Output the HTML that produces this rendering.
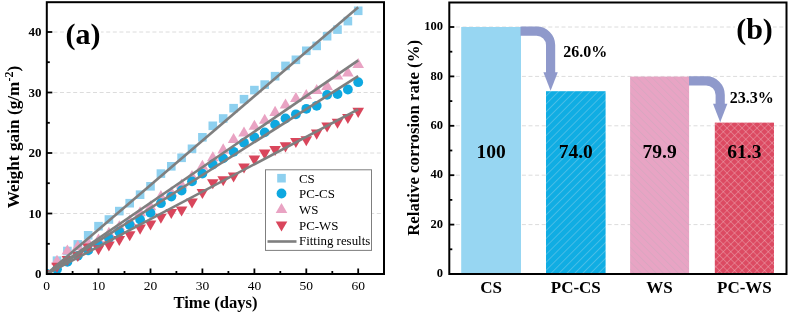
<!DOCTYPE html><html><head><meta charset="utf-8"><style>html,body{margin:0;padding:0;background:#fff;overflow:hidden}svg{display:block;will-change:transform}text{font-family:"Liberation Serif",serif}</style></head><body>
<svg width="789" height="313" viewBox="0 0 789 313">
<defs>
<pattern id="h1" patternUnits="userSpaceOnUse" width="5.6" height="5.6" patternTransform="rotate(45)"><rect width="5.6" height="5.6" fill="#10ade3"/><line x1="0" y1="0" x2="0" y2="5.6" stroke="#7ccbea" stroke-width="1"/></pattern>
<pattern id="h2" patternUnits="userSpaceOnUse" width="5.2" height="5.2" patternTransform="rotate(-45)"><rect width="5.2" height="5.2" fill="#e8a4c4"/><line x1="0" y1="0" x2="0" y2="5.2" stroke="#cfa8bd" stroke-width="1"/></pattern>
<pattern id="h3" patternUnits="userSpaceOnUse" width="5.3" height="5.3" patternTransform="rotate(45)"><rect width="5.3" height="5.3" fill="#dc4a62"/><line x1="0" y1="0" x2="0" y2="5.3" stroke="#ecaeb7" stroke-width="0.8"/><line x1="0" y1="0" x2="5.3" y2="0" stroke="#ecaeb7" stroke-width="0.8"/></pattern>
<clipPath id="ca"><rect x="46.8" y="2.2" width="337.2" height="271.8"/></clipPath>
</defs>
<rect width="789" height="313" fill="#fff"/>
<line x1="46.8" y1="213.5" x2="384.0" y2="213.5" stroke="#dcdcdc" stroke-width="1" stroke-dasharray="4 2.6"/>
<line x1="46.8" y1="153.0" x2="384.0" y2="153.0" stroke="#dcdcdc" stroke-width="1" stroke-dasharray="4 2.6"/>
<line x1="46.8" y1="92.5" x2="384.0" y2="92.5" stroke="#dcdcdc" stroke-width="1" stroke-dasharray="4 2.6"/>
<line x1="46.8" y1="32.0" x2="384.0" y2="32.0" stroke="#dcdcdc" stroke-width="1" stroke-dasharray="4 2.6"/>
<g clip-path="url(#ca)">
<rect x="42.3" y="269.7" width="8.6" height="8.6" fill="#8ed0ef"/>
<rect x="52.7" y="256.4" width="8.6" height="8.6" fill="#8ed0ef"/>
<rect x="63.1" y="246.7" width="8.6" height="8.6" fill="#8ed0ef"/>
<rect x="73.5" y="240.1" width="8.6" height="8.6" fill="#8ed0ef"/>
<rect x="83.9" y="231.0" width="8.6" height="8.6" fill="#8ed0ef"/>
<rect x="94.2" y="221.9" width="8.6" height="8.6" fill="#8ed0ef"/>
<rect x="104.6" y="215.2" width="8.6" height="8.6" fill="#8ed0ef"/>
<rect x="115.0" y="206.8" width="8.6" height="8.6" fill="#8ed0ef"/>
<rect x="125.4" y="198.9" width="8.6" height="8.6" fill="#8ed0ef"/>
<rect x="135.8" y="190.4" width="8.6" height="8.6" fill="#8ed0ef"/>
<rect x="146.2" y="182.0" width="8.6" height="8.6" fill="#8ed0ef"/>
<rect x="156.6" y="169.3" width="8.6" height="8.6" fill="#8ed0ef"/>
<rect x="167.0" y="162.0" width="8.6" height="8.6" fill="#8ed0ef"/>
<rect x="177.3" y="153.5" width="8.6" height="8.6" fill="#8ed0ef"/>
<rect x="187.7" y="144.5" width="8.6" height="8.6" fill="#8ed0ef"/>
<rect x="198.1" y="133.0" width="8.6" height="8.6" fill="#8ed0ef"/>
<rect x="208.5" y="121.5" width="8.6" height="8.6" fill="#8ed0ef"/>
<rect x="218.9" y="114.2" width="8.6" height="8.6" fill="#8ed0ef"/>
<rect x="229.3" y="103.9" width="8.6" height="8.6" fill="#8ed0ef"/>
<rect x="239.7" y="94.9" width="8.6" height="8.6" fill="#8ed0ef"/>
<rect x="250.1" y="85.8" width="8.6" height="8.6" fill="#8ed0ef"/>
<rect x="260.4" y="80.3" width="8.6" height="8.6" fill="#8ed0ef"/>
<rect x="270.8" y="71.9" width="8.6" height="8.6" fill="#8ed0ef"/>
<rect x="281.2" y="61.6" width="8.6" height="8.6" fill="#8ed0ef"/>
<rect x="291.6" y="55.5" width="8.6" height="8.6" fill="#8ed0ef"/>
<rect x="302.0" y="46.5" width="8.6" height="8.6" fill="#8ed0ef"/>
<rect x="312.4" y="41.6" width="8.6" height="8.6" fill="#8ed0ef"/>
<rect x="322.8" y="31.9" width="8.6" height="8.6" fill="#8ed0ef"/>
<rect x="333.2" y="25.3" width="8.6" height="8.6" fill="#8ed0ef"/>
<rect x="343.6" y="16.8" width="8.6" height="8.6" fill="#8ed0ef"/>
<rect x="353.9" y="6.5" width="8.6" height="8.6" fill="#8ed0ef"/>
<path d="M46.6,268.0L52.4,278.0L40.8,278.0Z" fill="#e9a3c3"/>
<path d="M57.0,254.7L62.8,264.7L51.2,264.7Z" fill="#e9a3c3"/>
<path d="M67.4,244.4L73.2,254.4L61.6,254.4Z" fill="#e9a3c3"/>
<path d="M77.8,240.1L83.6,250.2L72.0,250.2Z" fill="#e9a3c3"/>
<path d="M88.2,236.5L94.0,246.6L82.4,246.6Z" fill="#e9a3c3"/>
<path d="M98.5,233.5L104.3,243.5L92.7,243.5Z" fill="#e9a3c3"/>
<path d="M108.9,226.8L114.7,236.9L103.1,236.9Z" fill="#e9a3c3"/>
<path d="M119.3,220.2L125.1,230.2L113.5,230.2Z" fill="#e9a3c3"/>
<path d="M129.7,214.4L135.5,224.5L123.9,224.5Z" fill="#e9a3c3"/>
<path d="M140.1,206.3L145.9,216.3L134.3,216.3Z" fill="#e9a3c3"/>
<path d="M150.5,200.2L156.3,210.3L144.7,210.3Z" fill="#e9a3c3"/>
<path d="M160.9,189.9L166.7,200.0L155.1,200.0Z" fill="#e9a3c3"/>
<path d="M171.3,186.3L177.1,196.3L165.5,196.3Z" fill="#e9a3c3"/>
<path d="M181.6,178.4L187.4,188.5L175.8,188.5Z" fill="#e9a3c3"/>
<path d="M192.0,170.0L197.8,180.0L186.2,180.0Z" fill="#e9a3c3"/>
<path d="M202.4,159.7L208.2,169.7L196.6,169.7Z" fill="#e9a3c3"/>
<path d="M212.8,151.2L218.6,161.3L207.0,161.3Z" fill="#e9a3c3"/>
<path d="M223.2,143.3L229.0,153.4L217.4,153.4Z" fill="#e9a3c3"/>
<path d="M233.6,133.1L239.4,143.1L227.8,143.1Z" fill="#e9a3c3"/>
<path d="M244.0,126.4L249.8,136.4L238.2,136.4Z" fill="#e9a3c3"/>
<path d="M254.4,119.7L260.2,129.8L248.6,129.8Z" fill="#e9a3c3"/>
<path d="M264.7,113.7L270.5,123.7L258.9,123.7Z" fill="#e9a3c3"/>
<path d="M275.1,105.8L280.9,115.9L269.3,115.9Z" fill="#e9a3c3"/>
<path d="M285.5,98.6L291.3,108.6L279.7,108.6Z" fill="#e9a3c3"/>
<path d="M295.9,91.9L301.7,102.0L290.1,102.0Z" fill="#e9a3c3"/>
<path d="M306.3,88.9L312.1,98.9L300.5,98.9Z" fill="#e9a3c3"/>
<path d="M316.7,84.1L322.5,94.1L310.9,94.1Z" fill="#e9a3c3"/>
<path d="M327.1,79.8L332.9,89.9L321.3,89.9Z" fill="#e9a3c3"/>
<path d="M337.5,69.5L343.3,79.6L331.7,79.6Z" fill="#e9a3c3"/>
<path d="M347.9,66.5L353.7,76.6L342.1,76.6Z" fill="#e9a3c3"/>
<path d="M358.2,58.0L364.0,68.1L352.4,68.1Z" fill="#e9a3c3"/>
<circle cx="46.6" cy="274.0" r="4.9" fill="#0ea8e0"/>
<circle cx="57.0" cy="269.2" r="4.9" fill="#0ea8e0"/>
<circle cx="67.4" cy="261.9" r="4.9" fill="#0ea8e0"/>
<circle cx="77.8" cy="255.8" r="4.9" fill="#0ea8e0"/>
<circle cx="88.2" cy="250.4" r="4.9" fill="#0ea8e0"/>
<circle cx="98.5" cy="245.0" r="4.9" fill="#0ea8e0"/>
<circle cx="108.9" cy="238.3" r="4.9" fill="#0ea8e0"/>
<circle cx="119.3" cy="231.7" r="4.9" fill="#0ea8e0"/>
<circle cx="129.7" cy="225.0" r="4.9" fill="#0ea8e0"/>
<circle cx="140.1" cy="219.6" r="4.9" fill="#0ea8e0"/>
<circle cx="150.5" cy="212.9" r="4.9" fill="#0ea8e0"/>
<circle cx="160.9" cy="203.2" r="4.9" fill="#0ea8e0"/>
<circle cx="171.3" cy="196.6" r="4.9" fill="#0ea8e0"/>
<circle cx="181.6" cy="190.5" r="4.9" fill="#0ea8e0"/>
<circle cx="192.0" cy="181.4" r="4.9" fill="#0ea8e0"/>
<circle cx="202.4" cy="173.6" r="4.9" fill="#0ea8e0"/>
<circle cx="212.8" cy="164.5" r="4.9" fill="#0ea8e0"/>
<circle cx="223.2" cy="158.4" r="4.9" fill="#0ea8e0"/>
<circle cx="233.6" cy="151.8" r="4.9" fill="#0ea8e0"/>
<circle cx="244.0" cy="142.7" r="4.9" fill="#0ea8e0"/>
<circle cx="254.4" cy="137.3" r="4.9" fill="#0ea8e0"/>
<circle cx="264.7" cy="132.4" r="4.9" fill="#0ea8e0"/>
<circle cx="275.1" cy="124.6" r="4.9" fill="#0ea8e0"/>
<circle cx="285.5" cy="118.5" r="4.9" fill="#0ea8e0"/>
<circle cx="295.9" cy="114.3" r="4.9" fill="#0ea8e0"/>
<circle cx="306.3" cy="108.8" r="4.9" fill="#0ea8e0"/>
<circle cx="316.7" cy="105.8" r="4.9" fill="#0ea8e0"/>
<circle cx="327.1" cy="94.9" r="4.9" fill="#0ea8e0"/>
<circle cx="337.5" cy="94.0" r="4.9" fill="#0ea8e0"/>
<circle cx="347.9" cy="89.5" r="4.9" fill="#0ea8e0"/>
<circle cx="358.2" cy="82.2" r="4.9" fill="#0ea8e0"/>
<path d="M46.6,280.0L52.4,270.0L40.8,270.0Z" fill="#d9465c"/>
<path d="M57.0,272.8L62.8,262.7L51.2,262.7Z" fill="#d9465c"/>
<path d="M67.4,266.1L73.2,256.1L61.6,256.1Z" fill="#d9465c"/>
<path d="M77.8,261.9L83.6,251.8L72.0,251.8Z" fill="#d9465c"/>
<path d="M88.2,253.4L94.0,243.4L82.4,243.4Z" fill="#d9465c"/>
<path d="M98.5,255.2L104.3,245.2L92.7,245.2Z" fill="#d9465c"/>
<path d="M108.9,251.6L114.7,241.5L103.1,241.5Z" fill="#d9465c"/>
<path d="M119.3,246.1L125.1,236.1L113.5,236.1Z" fill="#d9465c"/>
<path d="M129.7,241.3L135.5,231.3L123.9,231.3Z" fill="#d9465c"/>
<path d="M140.1,234.7L145.9,224.6L134.3,224.6Z" fill="#d9465c"/>
<path d="M150.5,230.4L156.3,220.4L144.7,220.4Z" fill="#d9465c"/>
<path d="M160.9,223.8L166.7,213.7L155.1,213.7Z" fill="#d9465c"/>
<path d="M171.3,218.9L177.1,208.9L165.5,208.9Z" fill="#d9465c"/>
<path d="M181.6,216.5L187.4,206.5L175.8,206.5Z" fill="#d9465c"/>
<path d="M192.0,208.6L197.8,198.6L186.2,198.6Z" fill="#d9465c"/>
<path d="M202.4,199.0L208.2,188.9L196.6,188.9Z" fill="#d9465c"/>
<path d="M212.8,189.3L218.6,179.2L207.0,179.2Z" fill="#d9465c"/>
<path d="M223.2,186.3L229.0,176.2L217.4,176.2Z" fill="#d9465c"/>
<path d="M233.6,182.6L239.4,172.6L227.8,172.6Z" fill="#d9465c"/>
<path d="M244.0,173.5L249.8,163.5L238.2,163.5Z" fill="#d9465c"/>
<path d="M254.4,165.7L260.2,155.6L248.6,155.6Z" fill="#d9465c"/>
<path d="M264.7,159.6L270.5,149.6L258.9,149.6Z" fill="#d9465c"/>
<path d="M275.1,156.0L280.9,146.0L269.3,146.0Z" fill="#d9465c"/>
<path d="M285.5,152.4L291.3,142.3L279.7,142.3Z" fill="#d9465c"/>
<path d="M295.9,148.1L301.7,138.1L290.1,138.1Z" fill="#d9465c"/>
<path d="M306.3,146.3L312.1,136.3L300.5,136.3Z" fill="#d9465c"/>
<path d="M316.7,139.7L322.5,129.6L310.9,129.6Z" fill="#d9465c"/>
<path d="M327.1,132.4L332.9,122.4L321.3,122.4Z" fill="#d9465c"/>
<path d="M337.5,128.8L343.3,118.7L331.7,118.7Z" fill="#d9465c"/>
<path d="M347.9,123.9L353.7,113.9L342.1,113.9Z" fill="#d9465c"/>
<path d="M358.2,117.9L364.0,107.8L352.4,107.8Z" fill="#d9465c"/>
</g>
<line x1="46.6" y1="274.0" x2="358.2" y2="7.2" stroke="#7f7f7f" stroke-width="2.6"/>
<line x1="46.6" y1="274.0" x2="358.2" y2="60.4" stroke="#7f7f7f" stroke-width="2.6"/>
<line x1="46.6" y1="274.0" x2="358.2" y2="76.2" stroke="#7f7f7f" stroke-width="2.6"/>
<line x1="46.6" y1="274.0" x2="358.2" y2="109.4" stroke="#7f7f7f" stroke-width="2.6"/>
<rect x="46.8" y="2.2" width="337.2" height="271.8" fill="none" stroke="#000" stroke-width="2"/>
<line x1="46.8" y1="243.8" x2="49.8" y2="243.8" stroke="#000" stroke-width="1.8"/>
<line x1="46.8" y1="213.5" x2="52.3" y2="213.5" stroke="#000" stroke-width="1.8"/>
<line x1="46.8" y1="183.2" x2="49.8" y2="183.2" stroke="#000" stroke-width="1.8"/>
<line x1="46.8" y1="153.0" x2="52.3" y2="153.0" stroke="#000" stroke-width="1.8"/>
<line x1="46.8" y1="122.8" x2="49.8" y2="122.8" stroke="#000" stroke-width="1.8"/>
<line x1="46.8" y1="92.5" x2="52.3" y2="92.5" stroke="#000" stroke-width="1.8"/>
<line x1="46.8" y1="62.2" x2="49.8" y2="62.2" stroke="#000" stroke-width="1.8"/>
<line x1="46.8" y1="32.0" x2="52.3" y2="32.0" stroke="#000" stroke-width="1.8"/>
<line x1="72.6" y1="274.0" x2="72.6" y2="271.0" stroke="#000" stroke-width="1.8"/>
<line x1="98.5" y1="274.0" x2="98.5" y2="268.5" stroke="#000" stroke-width="1.8"/>
<line x1="124.5" y1="274.0" x2="124.5" y2="271.0" stroke="#000" stroke-width="1.8"/>
<line x1="150.5" y1="274.0" x2="150.5" y2="268.5" stroke="#000" stroke-width="1.8"/>
<line x1="176.4" y1="274.0" x2="176.4" y2="271.0" stroke="#000" stroke-width="1.8"/>
<line x1="202.4" y1="274.0" x2="202.4" y2="268.5" stroke="#000" stroke-width="1.8"/>
<line x1="228.4" y1="274.0" x2="228.4" y2="271.0" stroke="#000" stroke-width="1.8"/>
<line x1="254.4" y1="274.0" x2="254.4" y2="268.5" stroke="#000" stroke-width="1.8"/>
<line x1="280.3" y1="274.0" x2="280.3" y2="271.0" stroke="#000" stroke-width="1.8"/>
<line x1="306.3" y1="274.0" x2="306.3" y2="268.5" stroke="#000" stroke-width="1.8"/>
<line x1="332.3" y1="274.0" x2="332.3" y2="271.0" stroke="#000" stroke-width="1.8"/>
<line x1="358.2" y1="274.0" x2="358.2" y2="268.5" stroke="#000" stroke-width="1.8"/>
<text x="41.6" y="278.4" font-size="13" font-weight="bold" text-anchor="end">0</text>
<text x="41.6" y="217.9" font-size="13" font-weight="bold" text-anchor="end">10</text>
<text x="41.6" y="157.4" font-size="13" font-weight="bold" text-anchor="end">20</text>
<text x="41.6" y="96.9" font-size="13" font-weight="bold" text-anchor="end">30</text>
<text x="41.6" y="36.4" font-size="13" font-weight="bold" text-anchor="end">40</text>
<text x="46.6" y="290.3" font-size="13.5" text-anchor="middle">0</text>
<text x="98.5" y="290.3" font-size="13.5" text-anchor="middle">10</text>
<text x="150.5" y="290.3" font-size="13.5" text-anchor="middle">20</text>
<text x="202.4" y="290.3" font-size="13.5" text-anchor="middle">30</text>
<text x="254.4" y="290.3" font-size="13.5" text-anchor="middle">40</text>
<text x="306.3" y="290.3" font-size="13.5" text-anchor="middle">50</text>
<text x="358.2" y="290.3" font-size="13.5" text-anchor="middle">60</text>
<text x="215.5" y="307.7" font-size="16.6" font-weight="bold" text-anchor="middle">Time (days)</text>
<text transform="translate(18.6,137) rotate(-90)" font-size="17.3" font-weight="bold" text-anchor="middle">Weight gain (g/m<tspan font-size="12" dy="-6">-2</tspan><tspan dy="6">)</tspan></text>
<rect x="64" y="20" width="37" height="30" fill="#fff"/>
<text x="83" y="44.2" font-size="30" font-weight="bold" text-anchor="middle">(a)</text>
<rect x="265.5" y="169.8" width="106" height="80.6" fill="#fff" stroke="#7f7f7f" stroke-width="1"/>
<rect x="277.2" y="173.9" width="8.6" height="8.6" fill="#8ed0ef"/>
<circle cx="281.5" cy="193.5" r="4.9" fill="#0ea8e0"/>
<path d="M281.5,202.9L287.3,212.9L275.7,212.9Z" fill="#e9a3c3"/>
<path d="M281.5,231.5L287.3,221.5L275.7,221.5Z" fill="#d9465c"/>
<line x1="267.5" y1="241.5" x2="296.5" y2="241.5" stroke="#7f7f7f" stroke-width="2.6"/>
<text x="299" y="182.8" font-size="12.9">CS</text>
<text x="299" y="198.4" font-size="12.9">PC-CS</text>
<text x="299" y="214.0" font-size="12.9">WS</text>
<text x="299" y="229.6" font-size="12.9">PC-WS</text>
<text x="299" y="245.2" font-size="12.9">Fitting results</text>
<line x1="449.3" y1="224.6" x2="786.5" y2="224.6" stroke="#dcdcdc" stroke-width="1" stroke-dasharray="4 2.6"/>
<line x1="449.3" y1="175.2" x2="786.5" y2="175.2" stroke="#dcdcdc" stroke-width="1" stroke-dasharray="4 2.6"/>
<line x1="449.3" y1="125.8" x2="786.5" y2="125.8" stroke="#dcdcdc" stroke-width="1" stroke-dasharray="4 2.6"/>
<line x1="449.3" y1="76.4" x2="786.5" y2="76.4" stroke="#dcdcdc" stroke-width="1" stroke-dasharray="4 2.6"/>
<line x1="449.3" y1="27.0" x2="786.5" y2="27.0" stroke="#dcdcdc" stroke-width="1" stroke-dasharray="4 2.6"/>
<rect x="461.2" y="27.0" width="59.8" height="247.0" fill="#97d6f2"/>
<rect x="546" y="91.2" width="59.6" height="182.8" fill="url(#h1)"/>
<rect x="630.1" y="76.6" width="59.0" height="197.4" fill="url(#h2)"/>
<rect x="714.8" y="122.6" width="59.2" height="151.4" fill="url(#h3)"/>
<text x="491.1" y="158" font-size="19.5" font-weight="bold" text-anchor="middle">100</text>
<text x="491.1" y="293.3" font-size="17" font-weight="bold" text-anchor="middle">CS</text>
<text x="575.8" y="158" font-size="19.5" font-weight="bold" text-anchor="middle">74.0</text>
<text x="575.8" y="293.3" font-size="17" font-weight="bold" text-anchor="middle">PC-CS</text>
<text x="659.6" y="158" font-size="19.5" font-weight="bold" text-anchor="middle">79.9</text>
<text x="659.6" y="293.3" font-size="17" font-weight="bold" text-anchor="middle">WS</text>
<text x="744.4" y="158" font-size="19.5" font-weight="bold" text-anchor="middle">61.3</text>
<text x="744.4" y="293.3" font-size="17" font-weight="bold" text-anchor="middle">PC-WS</text>
<path d="M520.5,31.1 H536.6 A14,14 0 0 1 550.6,45.1 V73.3" fill="none" stroke="#8f99cb" stroke-width="9.2"/><path d="M543.4,72.3 L557.8000000000001,72.3 L550.6,90.8 Z" fill="#8f99cb"/>
<path d="M689,80.9 H706.2 A14,14 0 0 1 720.2,94.9 V104.8" fill="none" stroke="#8f99cb" stroke-width="9.2"/><path d="M713.0,103.8 L727.4000000000001,103.8 L720.2,122.3 Z" fill="#8f99cb"/>
<text x="563.2" y="56.8" font-size="16" font-weight="bold">26.0%</text>
<text x="729.8" y="102.8" font-size="16" font-weight="bold">23.3%</text>
<rect x="449.3" y="2.5" width="337.2" height="271.5" fill="none" stroke="#000" stroke-width="2"/>
<line x1="449.3" y1="249.3" x2="452.3" y2="249.3" stroke="#000" stroke-width="1.8"/>
<line x1="449.3" y1="224.6" x2="454.3" y2="224.6" stroke="#000" stroke-width="1.8"/>
<line x1="449.3" y1="199.9" x2="452.3" y2="199.9" stroke="#000" stroke-width="1.8"/>
<line x1="449.3" y1="175.2" x2="454.3" y2="175.2" stroke="#000" stroke-width="1.8"/>
<line x1="449.3" y1="150.5" x2="452.3" y2="150.5" stroke="#000" stroke-width="1.8"/>
<line x1="449.3" y1="125.8" x2="454.3" y2="125.8" stroke="#000" stroke-width="1.8"/>
<line x1="449.3" y1="101.1" x2="452.3" y2="101.1" stroke="#000" stroke-width="1.8"/>
<line x1="449.3" y1="76.4" x2="454.3" y2="76.4" stroke="#000" stroke-width="1.8"/>
<line x1="449.3" y1="51.7" x2="452.3" y2="51.7" stroke="#000" stroke-width="1.8"/>
<line x1="449.3" y1="27.0" x2="454.3" y2="27.0" stroke="#000" stroke-width="1.8"/>
<text x="443" y="277.2" font-size="12.5" font-weight="bold" text-anchor="end">0</text>
<text x="443" y="227.8" font-size="12.5" font-weight="bold" text-anchor="end">20</text>
<text x="443" y="178.4" font-size="12.5" font-weight="bold" text-anchor="end">40</text>
<text x="443" y="129.0" font-size="12.5" font-weight="bold" text-anchor="end">60</text>
<text x="443" y="79.6" font-size="12.5" font-weight="bold" text-anchor="end">80</text>
<text x="443" y="30.2" font-size="12.5" font-weight="bold" text-anchor="end">100</text>
<text transform="translate(418.6,137.9) rotate(-90)" font-size="16.8" font-weight="bold" text-anchor="middle">Relative corrosion rate (%)</text>
<rect x="735" y="15" width="38" height="30" fill="#fff"/>
<text x="754.5" y="38.6" font-size="30" font-weight="bold" text-anchor="middle">(b)</text>
</svg></body></html>
